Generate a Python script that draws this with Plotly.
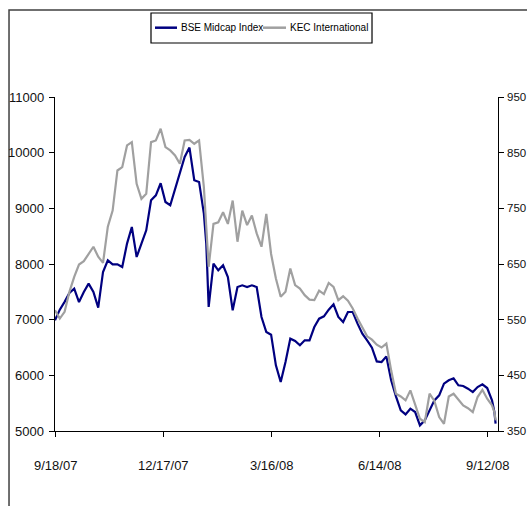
import plotly.graph_objects as go

dates = [
    "2007-09-18", "2007-09-22", "2007-09-26", "2007-09-30", "2007-10-04", "2007-10-08",
    "2007-10-12", "2007-10-16", "2007-10-20", "2007-10-24", "2007-10-28", "2007-11-01",
    "2007-11-05", "2007-11-09", "2007-11-13", "2007-11-17", "2007-11-21", "2007-11-25",
    "2007-11-29", "2007-12-03", "2007-12-07", "2007-12-11", "2007-12-15", "2007-12-19",
    "2007-12-23", "2007-12-27", "2007-12-31", "2008-01-04", "2008-01-08", "2008-01-12",
    "2008-01-16", "2008-01-20", "2008-01-22", "2008-01-24", "2008-01-28", "2008-02-01",
    "2008-02-05", "2008-02-09", "2008-02-13", "2008-02-17", "2008-02-21", "2008-02-25",
    "2008-02-29", "2008-03-04", "2008-03-08", "2008-03-12", "2008-03-16", "2008-03-20",
    "2008-03-24", "2008-03-28", "2008-04-01", "2008-04-05", "2008-04-09", "2008-04-13",
    "2008-04-17", "2008-04-21", "2008-04-25", "2008-04-29", "2008-05-03", "2008-05-07",
    "2008-05-11", "2008-05-15", "2008-05-19", "2008-05-23", "2008-05-27", "2008-05-31",
    "2008-06-04", "2008-06-08", "2008-06-12", "2008-06-16", "2008-06-20", "2008-06-24",
    "2008-06-28", "2008-07-02", "2008-07-06", "2008-07-10", "2008-07-14", "2008-07-18",
    "2008-07-22", "2008-07-26", "2008-07-30", "2008-08-03", "2008-08-07", "2008-08-11",
    "2008-08-15", "2008-08-19", "2008-08-23", "2008-08-27", "2008-08-31", "2008-09-04",
    "2008-09-08", "2008-09-12", "2008-09-16", "2008-09-18", "2008-09-19",
]

bse_midcap = [
    6990, 7180, 7320, 7480, 7557, 7317, 7497, 7647, 7497, 7216, 7857, 8066,
    7994, 7994, 7946, 8366, 8665, 8126, 8366, 8605, 9145, 9234, 9450, 9114,
    9055, 9336, 9624, 9923, 10091, 9504, 9474, 8905, 8366, 7228, 8006, 7886,
    7976, 7767, 7168, 7587, 7617, 7587, 7617, 7587, 7048, 6778, 6730, 6179,
    5880, 6239, 6659, 6617, 6539, 6629, 6629, 6868, 7018, 7060, 7180, 7276,
    7048, 6958, 7138, 7138, 6928, 6748, 6629, 6497, 6250, 6239, 6341, 5910,
    5622, 5371, 5299, 5401, 5341, 5101, 5191, 5371, 5550, 5640, 5850, 5910,
    5946, 5820, 5808, 5760, 5700, 5790, 5838, 5772, 5550, 5341, 5131,
]

kec_international = [
    567, 552, 564, 600, 627, 649, 655, 669, 681, 663, 652, 717,
    746, 818, 824, 863, 869, 794, 767, 776, 869, 872, 893, 860,
    854, 845, 830, 872, 873, 866, 872, 788, 722, 645, 722, 725,
    743, 722, 764, 690, 746, 720, 737, 705, 681, 740, 668, 624,
    591, 600, 642, 612, 606, 594, 586, 585, 602, 596, 616, 609,
    585, 592, 584, 570, 552, 537, 520, 514, 505, 500, 507, 459,
    417, 412, 405, 423, 399, 372, 366, 417, 404, 375, 363, 412,
    417, 406, 396, 391, 384, 411, 424, 408, 396, 384, 369,
]

series_names = ["BSE Midcap Index", "KEC International"]
series_colors = ["#000080", "#A0A0A0"]

tick_dates = ["2007-09-18", "2007-12-17", "2008-03-16", "2008-06-14", "2008-09-12"]
tick_labels = ["9/18/07", "12/17/07", "3/16/08", "6/14/08", "9/12/08"]
left_ticks = [5000, 6000, 7000, 8000, 9000, 10000, 11000]
right_ticks = [350, 450, 550, 650, 750, 850, 950]

X_RANGE = ["2007-09-18", "2008-09-21"]
LEFT_RANGE = [5000, 11000]
RIGHT_RANGE = [350, 950]

FONT = "Liberation Sans, Arial, sans-serif"
TXT = "#111111"

fig = go.Figure()
fig.add_trace(go.Scatter(x=dates, y=bse_midcap, name=series_names[0], mode="lines",
                         line=dict(color=series_colors[0], width=2.2), yaxis="y"))
fig.add_trace(go.Scatter(x=dates, y=kec_international, name=series_names[1], mode="lines",
                         line=dict(color=series_colors[1], width=2.2), yaxis="y2"))

base = dict(showgrid=False, zeroline=False, automargin=False, showline=True,
            linecolor="black", linewidth=1, ticks="outside", ticklen=5,
            tickcolor="black", showticklabels=False)

# tick labels placed at the axis values (offsets given in paper units)
tick_texts = []
for d, lab in zip(tick_dates, tick_labels):
    tick_texts.append(dict(xref="x", yref="paper", x=d, y=-0.1018, text=lab,
                           showarrow=False, xanchor="center", yanchor="middle",
                           font=dict(family=FONT, size=13, color=TXT)))
for v in left_ticks:
    tick_texts.append(dict(xref="paper", yref="y", x=-0.0203, y=v, text=str(v),
                           showarrow=False, xanchor="right", yanchor="middle",
                           font=dict(family=FONT, size=13, color=TXT)))
for v in right_ticks:
    tick_texts.append(dict(xref="paper", yref="y2", x=1.0158, y=v, text=str(v),
                           showarrow=False, xanchor="left", yanchor="middle",
                           font=dict(family=FONT, size=11.5, color=TXT)))

# custom legend box (Excel-style compact legend)
legend_shapes = [
    dict(type="rect", xref="paper", yref="paper", x0=0.2167, x1=0.7156,
         y0=1.1617, y1=1.2515, line=dict(color="black", width=1.2), fillcolor="white"),
    dict(type="line", xref="paper", yref="paper", x0=0.2257, x1=0.2754,
         y0=1.2075, y1=1.2075, line=dict(color=series_colors[0], width=2.5)),
    dict(type="line", xref="paper", yref="paper", x0=0.4695, x1=0.5215,
         y0=1.2075, y1=1.2075, line=dict(color=series_colors[1], width=2.5)),
]
legend_texts = [
    dict(xref="paper", yref="paper", x=0.2799, y=1.2075, text=series_names[0],
         showarrow=False, xanchor="left", yanchor="middle",
         font=dict(family=FONT, size=10, color="black")),
    dict(xref="paper", yref="paper", x=0.526, y=1.2075, text=series_names[1],
         showarrow=False, xanchor="left", yanchor="middle",
         font=dict(family=FONT, size=10, color="black")),
]

frame = dict(type="rect", xref="paper", yref="paper", x0=-0.1038, x1=1.3,
             y0=-1.0, y1=1.2605, line=dict(color="#404040", width=1.5),
             fillcolor="rgba(0,0,0,0)", layer="below")

fig.update_layout(
    width=527, height=506,
    margin=dict(l=55, r=29, t=97, b=75, autoexpand=False),
    paper_bgcolor="white", plot_bgcolor="white",
    font=dict(family=FONT, color="black"),
    xaxis=dict(type="date", range=X_RANGE, tickvals=tick_dates, **base),
    yaxis=dict(range=LEFT_RANGE, tickvals=left_ticks, **base),
    yaxis2=dict(range=RIGHT_RANGE, tickvals=right_ticks, overlaying="y", side="right",
                **base),
    showlegend=False,
    shapes=[frame] + legend_shapes,
    annotations=tick_texts + legend_texts,
)

fig.write_html("out.html")
